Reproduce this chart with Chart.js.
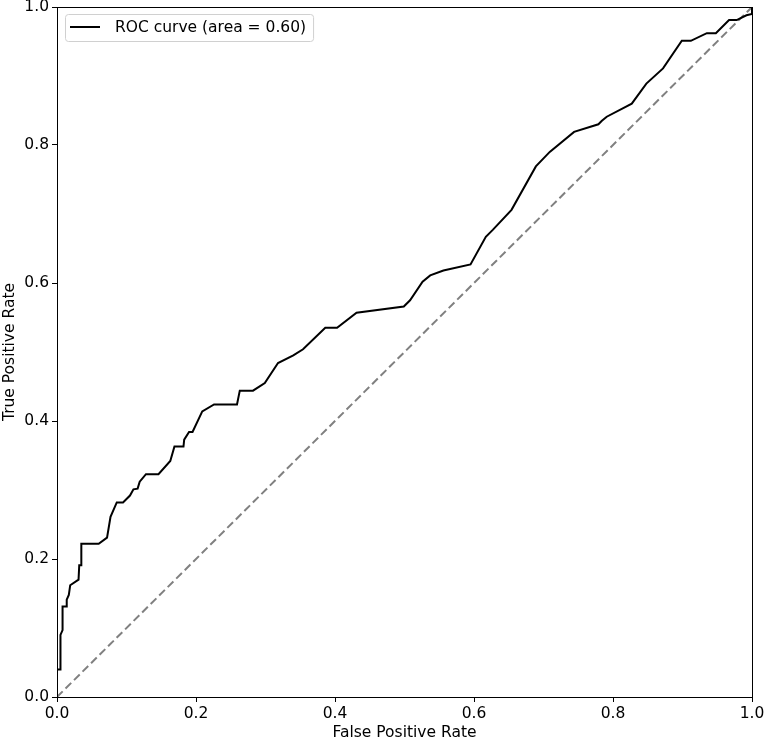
<!DOCTYPE html>
<html>
<head>
<meta charset="utf-8">
<script src="https://cdn.jsdelivr.net/npm/chart.js@4"></script>
<style>
    html, body { margin: 0; padding: 0; background: #fff; }
    #wrap { width: 766px; height: 743px; }
</style>
</head>
<body>
<div id="wrap"><canvas id="rocChart" width="766" height="743"></canvas></div>
<script>
// ROC curve points
const fpr = [0, 0, 0.005, 0.005, 0.008, 0.008, 0.013, 0.014, 0.017, 0.019,
    0.031, 0.032, 0.035, 0.035, 0.060, 0.072, 0.077, 0.086, 0.095, 0.105,
    0.110, 0.116, 0.119, 0.128, 0.146, 0.163, 0.169, 0.182, 0.183, 0.190,
    0.195, 0.209, 0.226, 0.259, 0.263, 0.282, 0.299, 0.318, 0.340, 0.354,
    0.386, 0.403, 0.431, 0.499, 0.508, 0.526, 0.537, 0.556, 0.595, 0.617,
    0.627, 0.654, 0.689, 0.709, 0.744, 0.779, 0.784, 0.791, 0.827, 0.848,
    0.872, 0.899, 0.912, 0.935, 0.948, 0.967, 0.978, 0.992, 1.0, 1.0];
const tpr = [0, 0.04, 0.04, 0.09, 0.097, 0.131, 0.131, 0.141, 0.148, 0.162,
    0.170, 0.191, 0.191, 0.222, 0.222, 0.231, 0.261, 0.282, 0.282, 0.292,
    0.301, 0.302, 0.312, 0.323, 0.323, 0.342, 0.363, 0.363, 0.373, 0.384,
    0.384, 0.414, 0.424, 0.424, 0.444, 0.444, 0.455, 0.484, 0.495, 0.504,
    0.535, 0.535, 0.557, 0.566, 0.575, 0.602, 0.611, 0.618, 0.627, 0.667,
    0.677, 0.706, 0.769, 0.790, 0.819, 0.830, 0.835, 0.841, 0.860, 0.889,
    0.911, 0.951, 0.951, 0.962, 0.962, 0.981, 0.981, 0.988, 0.990, 1.0];
const chanceX = [0, 1];
const chanceY = [0, 1];
const rocLabel = "ROC curve (area = 0.60)";

const FONT = "'DejaVu Sans', sans-serif";
const FSIZE = 15.5;
Chart.defaults.font.family = FONT;
Chart.defaults.font.size = FSIZE;
Chart.defaults.color = "#000";

// top + right spines
const frame = {
    id: "frame",
    afterDatasetsDraw(chart) {
        const { ctx, chartArea: a } = chart;
        ctx.save();
        ctx.strokeStyle = "#000";
        ctx.lineWidth = 1;
        ctx.strokeRect(Math.round(a.left) + 0.5, Math.round(a.top) + 0.5,
            Math.round(a.right - a.left), Math.round(a.bottom - a.top));
        ctx.restore();
    }
};

// matplotlib style legend in the upper left corner
const boxLegend = {
    id: "boxLegend",
    afterDraw(chart) {
        const { ctx, chartArea: a } = chart;
        const ds = chart.data.datasets[0];
        ctx.save();
        ctx.font = FSIZE + "px " + FONT;
        const tw = ctx.measureText(ds.label).width;
        const x = a.left + 8, y = a.top + 7;
        const w = 50 + tw + 7, h = 27;
        ctx.beginPath();
        ctx.roundRect(x + 0.5, y + 0.5, w, h, 3);
        ctx.fillStyle = "rgba(255,255,255,0.8)";
        ctx.fill();
        ctx.strokeStyle = "#d0d0d0";
        ctx.lineWidth = 1;
        ctx.stroke();
        ctx.beginPath();
        ctx.moveTo(x + 5, y + 13);
        ctx.lineTo(x + 35, y + 13);
        ctx.strokeStyle = ds.borderColor;
        ctx.lineWidth = ds.borderWidth;
        ctx.stroke();
        ctx.fillStyle = "#000";
        ctx.textBaseline = "middle";
        ctx.fillText(ds.label, x + 50, y + 14);
        ctx.restore();
    }
};

const axis = (title, fit) => ({
    type: "linear",
    min: 0,
    max: 1,
    ticks: { stepSize: 0.2, padding: 3, callback: v => v.toFixed(1) },
    grid: { drawOnChartArea: false, drawTicks: true, tickLength: 5, color: "#000" },
    border: { display: true, color: "#000", width: 1 },
    title: { display: true, text: title, padding: { top: 1, bottom: 1 } },
    afterFit: fit
});

new Chart(document.getElementById("rocChart"), {
    type: "scatter",
    data: {
        datasets: [{
            label: rocLabel,
            data: fpr.map((x, i) => ({ x, y: tpr[i] })),
            showLine: true,
            borderColor: "#000",
            borderWidth: 2,
            pointRadius: 0,
            tension: 0
        }, {
            label: "chance",
            data: chanceX.map((x, i) => ({ x, y: chanceY[i] })),
            showLine: true,
            borderColor: "#808080",
            borderWidth: 2,
            borderDash: [8, 4],
            pointRadius: 0
        }]
    },
    options: {
        responsive: false,
        animation: false,
        layout: { padding: 0 },
        plugins: { legend: { display: false }, tooltip: { enabled: false } },
        scales: {
            x: axis("False Positive Rate", s => {
                s.height = 46; s.paddingLeft = 0; s.paddingRight = 14;
            }),
            y: axis("True Positive Rate", s => {
                s.width = 57; s.paddingTop = 7; s.paddingBottom = 0;
            })
        }
    },
    plugins: [frame, boxLegend]
});
</script>
</body>
</html>
